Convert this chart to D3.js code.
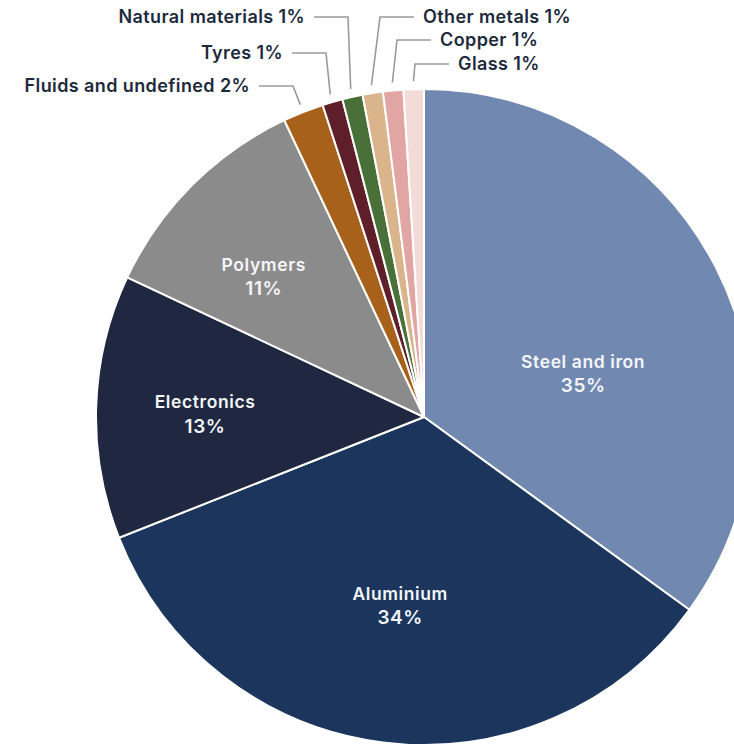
<!DOCTYPE html>
<html>
<head>
<meta charset="utf-8">
<script src="https://cdn.jsdelivr.net/npm/d3@7"></script>
<style>
  html, body { margin: 0; padding: 0; background: #ffffff; }
  svg { display: block; }
  text { font-family: Inter, "Noto Sans", "DejaVu Sans", sans-serif; font-weight: 600; }
</style>
</head>
<body>
<svg id="chart" width="734" height="745"></svg>
<script>
// Material composition of a vehicle, share of total weight (%)
const categories = [
  "Steel and iron", "Aluminium", "Electronics", "Polymers",
  "Fluids and undefined", "Tyres", "Natural materials",
  "Other metals", "Copper", "Glass"
];
const shares = [35, 34, 13, 11, 2, 1, 1, 1, 1, 1];
const colors = [
  "#7189b0", "#1b355d", "#1f2840", "#8b8b8b",
  "#a8611b", "#5e1f2a", "#497039",
  "#dab48b", "#e1a5a4", "#f3dcd8"
];

// Labels drawn inside the large slices: angle nudge (deg) and radius
const innerLabels = [
  { name: "Steel and iron", shift: 11.7, radius: 165 },
  { name: "Aluminium",      shift: 0,    radius: 190 },
  { name: "Electronics",    shift: -1,   radius: 219 },
  { name: "Polymers",       shift: -3.8, radius: 213 }
];

// Callout labels for the thin slices: text anchor and row
const outerLabels = [
  { name: "Fluids and undefined", side: "left",  x: 250, y: 86 },
  { name: "Tyres",                side: "left",  x: 283, y: 53 },
  { name: "Natural materials",    side: "left",  x: 305, y: 17 },
  { name: "Other metals",         side: "right", x: 423, y: 17 },
  { name: "Copper",               side: "right", x: 440, y: 40 },
  { name: "Glass",                side: "right", x: 458, y: 64 }
];

const cx = 424, cy = 417, R = 328;
const svg = d3.select("#chart");

const data = categories.map((c, i) => ({ name: c, value: shares[i], color: colors[i] }));
const arcs = d3.pie().sort(null).value(d => d.value)(data);
const arc = d3.arc().innerRadius(0).outerRadius(R);

const g = svg.append("g").attr("transform", `translate(${cx},${cy})`);

g.selectAll("path.slice")
  .data(arcs)
  .join("path")
  .attr("class", "slice")
  .attr("d", arc)
  .attr("fill", d => d.data.color)
  .attr("stroke", "#ffffff")
  .attr("stroke-width", 2)
  .attr("stroke-linejoin", "round");

const byName = new Map(arcs.map(a => [a.data.name, a]));

// Inner two-line labels
innerLabels.forEach(l => {
  const a = byName.get(l.name);
  const mid = (a.startAngle + a.endAngle) / 2 + l.shift * Math.PI / 180;
  const x = Math.sin(mid) * l.radius;
  const y = -Math.cos(mid) * l.radius;
  const t = g.append("text")
    .attr("text-anchor", "middle")
    .attr("fill", "#f4f6fa")
    .style("font-size", "17.5px")
    .style("letter-spacing", "0.6px");
  t.append("tspan").attr("x", x).attr("y", y - 12).attr("dy", "0.35em").text(a.data.name);
  t.append("tspan").attr("x", x).attr("y", y + 12).attr("dy", "0.35em")
    .style("font-size", "19px").text(a.data.value + "%");
});

// Callouts with elbow leader lines
const leader = svg.append("g");
outerLabels.forEach(l => {
  const a = byName.get(l.name);
  const mid = (a.startAngle + a.endAngle) / 2;
  const rEnd = R + 8;
  const ex = cx + Math.sin(mid) * rEnd;
  const ey = cy - Math.cos(mid) * rEnd;
  const gap = 9, run = 34;
  const lineStart = l.side === "left" ? l.x + gap : l.x - gap;
  const elbowX = l.side === "left" ? lineStart + run : lineStart - run;
  leader.append("path")
    .attr("d", d3.line()([[lineStart, l.y], [elbowX, l.y], [ex, ey]]))
    .attr("fill", "none")
    .attr("stroke", "#9a9a9a")
    .attr("stroke-width", 1.6);
  leader.append("text")
    .attr("x", l.x)
    .attr("y", l.y)
    .attr("dy", "0.35em")
    .attr("text-anchor", l.side === "left" ? "end" : "start")
    .attr("fill", "#1d2a3c")
    .style("font-size", "18px")
    .style("letter-spacing", "0.4px")
    .text(`${a.data.name} ${a.data.value}%`);
});
</script>
</body>
</html>
